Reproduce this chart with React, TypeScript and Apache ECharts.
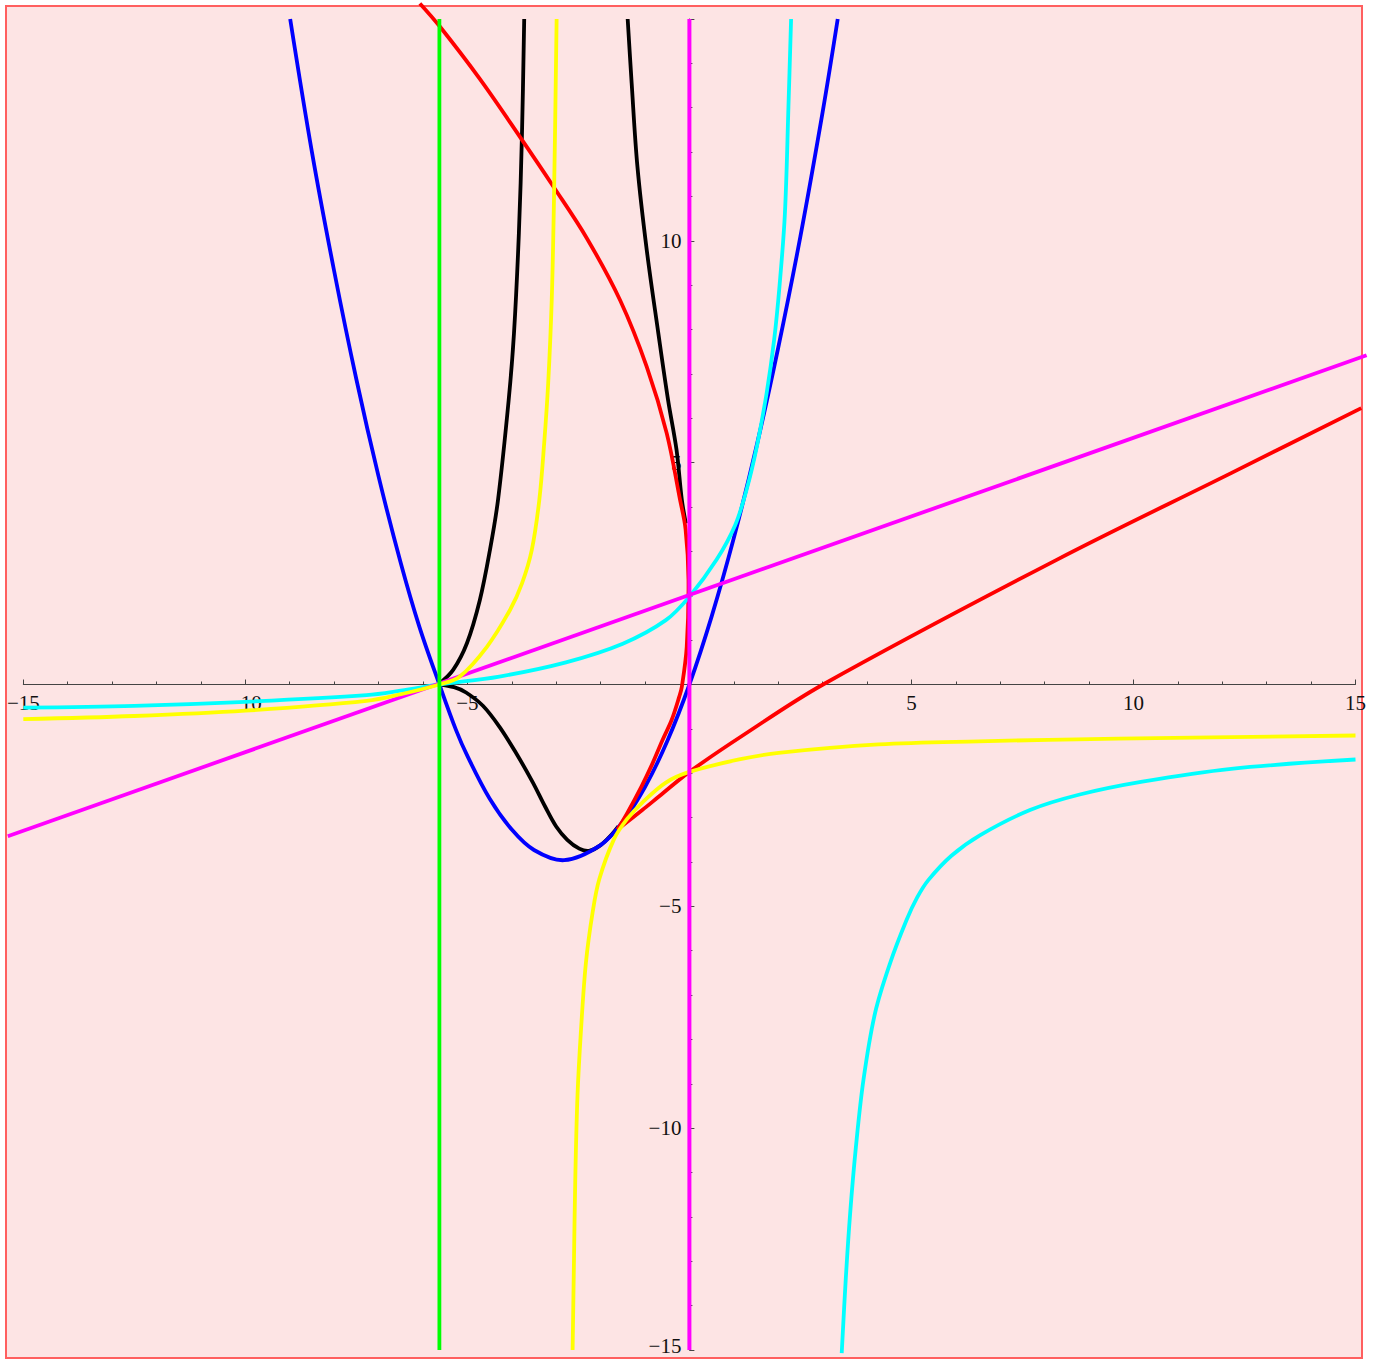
import React, { useEffect, useRef } from "react";
import * as echarts from "echarts";

type Pt = [number, number];

// Axis ticks
const xTickValues = [-15, -10, -5, 0, 5, 10, 15];
const xTickLabels = ["\u221215", "\u221210", "\u22125", "", "5", "10", "15"];
const yTickValues = [-15, -10, -5, 0, 5, 10, 15];
const yTickLabels = ["\u221215", "\u221210", "\u22125", "", "5", "10", ""];

// Curves
const blueParabola: Pt[] = [
  [-8.99, 15], [-8.5, 12.0], [-8, 9.32], [-7.5, 6.88], [-7, 4.69], [-6.5, 2.74],
  [-6.08, 1.3], [-5.63, 0], [-5.25, -1.04], [-5, -1.61], [-4.5, -2.57], [-4, -3.27],
  [-3.5, -3.73], [-2.82, -3.96], [-2, -3.62], [-1.5, -3.09], [-1, -2.31], [-0.5, -1.28],
  [0, 0], [0.5, 1.53], [1, 3.3], [1.5, 5.32], [2, 7.59], [2.5, 10.1], [3, 12.9], [3.34, 15],
];

const blackLeftUpper: Pt[] = [
  [-5.62, 0.03], [-5.32, 0.33], [-5.01, 0.93], [-4.72, 1.9], [-4.49, 3.04], [-4.31, 4.16],
  [-4.07, 6.41], [-3.95, 7.92], [-3.84, 10.17], [-3.77, 12.42], [-3.72, 15],
];

const blackLowerLoop: Pt[] = [
  [-5.63, 0], [-5.3, -0.06], [-5.03, -0.18], [-4.65, -0.48], [-4.28, -0.95], [-3.9, -1.55],
  [-3.53, -2.2], [-3.25, -2.75], [-3.0, -3.2], [-2.75, -3.5], [-2.48, -3.7], [-2.26, -3.75],
  [-2.0, -3.62], [-1.74, -3.37], [-1.6, -3.2],
];

const blackRightUpper: Pt[] = [
  [-0.08, 3.63], [-0.17, 4.16], [-0.29, 5.29], [-0.48, 6.41], [-0.7, 7.92], [-0.96, 9.79],
  [-1.17, 11.67], [-1.3, 13.55], [-1.39, 15],
];

const redUpper: Pt[] = [
  [-6.07, 15.35], [-5.62, 14.83], [-4.72, 13.65], [-3.82, 12.35], [-3.06, 11.22],
  [-2.31, 10.06], [-1.56, 8.66], [-0.96, 7.16], [-0.51, 5.66], [-0.21, 4.16], [-0.086, 3.5],
  [-0.02, 2.36], [-0.06, 0.85], [-0.17, -0.05], [-0.23, -0.28], [-0.4, -0.8], [-0.6, -1.24],
  [-0.84, -1.8], [-1.08, -2.3], [-1.4, -2.9], [-1.62, -3.27],
];

const redLower: Pt[] = [
  [-1.62, -3.27], [-1.06, -2.83], [-0.68, -2.52], [0, -1.97], [1.2, -1.15], [3.01, 0],
  [8.27, 2.81], [12.21, 4.77], [15.13, 6.23],
];

const yellowLeft: Pt[] = [
  [-15, -0.78], [-12.5, -0.71], [-10, -0.59], [-7.27, -0.37], [-6.5, -0.22], [-5.63, 0],
  [-5.17, 0.18], [-4.56, 0.85], [-4.04, 1.68], [-3.77, 2.28], [-3.55, 3.03], [-3.38, 4.16],
  [-3.27, 5.44], [-3.18, 6.79], [-3.1, 8.67], [-3.05, 10.92], [-2.99, 15],
];

const yellowRight: Pt[] = [
  [-2.63, -15], [-2.6, -13.03], [-2.57, -11.15], [-2.52, -9.27], [-2.44, -7.77],
  [-2.33, -6.27], [-2.18, -5.14], [-2.03, -4.39], [-1.7, -3.49], [-1.41, -3.04],
  [-1.06, -2.66], [-0.53, -2.21], [0, -1.97], [1.12, -1.69], [2.01, -1.54], [4.26, -1.35],
  [6.51, -1.28], [9.66, -1.22], [15, -1.15],
];

const cyanLeft: Pt[] = [
  [-15, -0.52], [-12.5, -0.48], [-10, -0.39], [-7.27, -0.24], [-6.5, -0.14], [-5.63, 0],
  [-4.28, 0.18], [-2.78, 0.5], [-1.5, 0.92], [-0.53, 1.45], [0, 1.98], [0.61, 2.81],
  [1.03, 3.59], [1.29, 4.4], [1.52, 5.37], [1.74, 6.57], [1.91, 7.78], [2.03, 8.99],
  [2.15, 10.6], [2.23, 13.01], [2.29, 15],
];

const cyanRight: Pt[] = [
  [3.43, -15.07], [3.52, -13.42], [3.62, -11.92], [3.75, -10.42], [3.92, -8.91], [4.18, -7.41],
  [4.52, -6.28], [4.89, -5.31], [5.13, -4.8], [5.38, -4.41], [5.9, -3.86], [6.54, -3.4],
  [7.67, -2.83], [8.79, -2.48], [10.2, -2.19], [12.2, -1.9], [15, -1.69],
];

const magentaLine: Pt[] = [[-15.35, -3.42], [15.25, 7.42]];
const magentaVertical: Pt[] = [[0, -15], [0, 15]];
const greenVertical: Pt[] = [[-5.63, -15], [-5.63, 15]];

const COLORS = {
  blue: "#0000ff",
  black: "#000000",
  red: "#ff0000",
  yellow: "#ffff00",
  cyan: "#00ffff",
  magenta: "#ff00ff",
  green: "#00ff00",
};

// A curve drawn as one smooth polyline through the data points,
// each point placed with the chart's own scales (api.coord).
function curve(data: Pt[], color: string, width = 3.8, smooth = 0.35) {
  return {
    type: "custom",
    data,
    encode: { x: 0, y: 1 },
    clip: false,
    silent: true,
    renderItem: (params: any, api: any) => {
      if (params.dataIndex !== 0) return null;
      const points = data.map((p) => api.coord(p));
      return {
        type: "polyline",
        shape: { points, smooth },
        style: {
          fill: null,
          stroke: color,
          lineWidth: width,
          lineJoin: "round",
          lineCap: "butt",
        },
      };
    },
  };
}

const FONT_FAMILY = "Liberation Serif, Times New Roman, serif";
const labelFont = {
  fontFamily: FONT_FAMILY,
  fontSize: 21,
  color: "#111",
};

// grid geometry (pixels)
const GRID_LEFT = 23.3;
const GRID_TOP = 19;
const GRID_W = 1332.2;
const GRID_H = 1331;

export default function App() {
  const ref = useRef<HTMLDivElement>(null);

  useEffect(() => {
    document.body.style.margin = "0";
    if (!ref.current) return;
    const chart = echarts.init(ref.current, undefined, { renderer: "svg" });
    const axisLineStyle = { color: "#444", width: 1 };
    // move the axes so they cross at the origin (labels follow the axis)
    const xOffset = -(GRID_H * (15 / 30));
    const yOffset = -(GRID_W * (15 / 30));
    chart.setOption({
      animation: false,
      grid: {
        left: GRID_LEFT,
        top: GRID_TOP,
        width: GRID_W,
        height: GRID_H,
        containLabel: false,
        outerBoundsMode: "none",
      },
      xAxis: {
        type: "value",
        min: -15,
        max: 15,
        interval: 5,
        position: "bottom",
        offset: xOffset,
        axisLine: { show: true, onZero: false, lineStyle: axisLineStyle },
        axisTick: { show: true, inside: true, length: 5, lineStyle: axisLineStyle },
        minorTick: { show: true, splitNumber: 5, length: 3, lineStyle: axisLineStyle },
        splitLine: { show: false },
        minorSplitLine: { show: false },
        axisLabel: {
          ...labelFont,
          margin: 8,
          showMinLabel: true,
          showMaxLabel: true,
          formatter: (v: number) => {
            const i = xTickValues.indexOf(v);
            return i >= 0 ? xTickLabels[i] : "";
          },
        },
      },
      yAxis: {
        type: "value",
        min: -15,
        max: 15,
        interval: 5,
        position: "left",
        offset: yOffset,
        axisLine: { show: true, onZero: false, lineStyle: axisLineStyle },
        axisTick: { show: true, inside: true, length: 5, lineStyle: axisLineStyle },
        minorTick: { show: true, splitNumber: 5, length: 3, lineStyle: axisLineStyle },
        splitLine: { show: false },
        minorSplitLine: { show: false },
        axisLabel: {
          ...labelFont,
          margin: 8,
          showMinLabel: true,
          showMaxLabel: true,
          rich: {
            low: { ...labelFont, padding: [0, 0, 8, 0] },
          },
          formatter: (v: number) => {
            const i = yTickValues.indexOf(v);
            if (i < 0 || !yTickLabels[i]) return "";
            return v === yTickValues[0] ? `{low|${yTickLabels[i]}}` : yTickLabels[i];
          },
        },
      },
      series: [
        curve(blackLeftUpper, COLORS.black),
        curve(blackLowerLoop, COLORS.black),
        curve(blackRightUpper, COLORS.black),
        curve(blueParabola, COLORS.blue),
        curve(redUpper, COLORS.red),
        curve(redLower, COLORS.red),
        curve(cyanLeft, COLORS.cyan),
        curve(cyanRight, COLORS.cyan),
        curve(magentaLine, COLORS.magenta, 3.8, 0),
        curve(yellowLeft, COLORS.yellow),
        curve(yellowRight, COLORS.yellow),
        curve(greenVertical, COLORS.green, 3.8, 0),
        curve(magentaVertical, COLORS.magenta, 4, 0),
      ],
    });
    return () => chart.dispose();
  }, []);

  return (
    <div style={{ position: "relative", width: 1381, height: 1359, background: "#fff" }}>
      <div
        style={{
          position: "absolute",
          left: 5,
          top: 5,
          width: 1354,
          height: 1350,
          background: "#fde4e4",
          border: "2px solid #ff5f5f",
        }}
      />
      <div
        ref={ref}
        style={{ position: "absolute", left: 0, top: 0, width: 1381, height: 1359 }}
      />
    </div>
  );
}
